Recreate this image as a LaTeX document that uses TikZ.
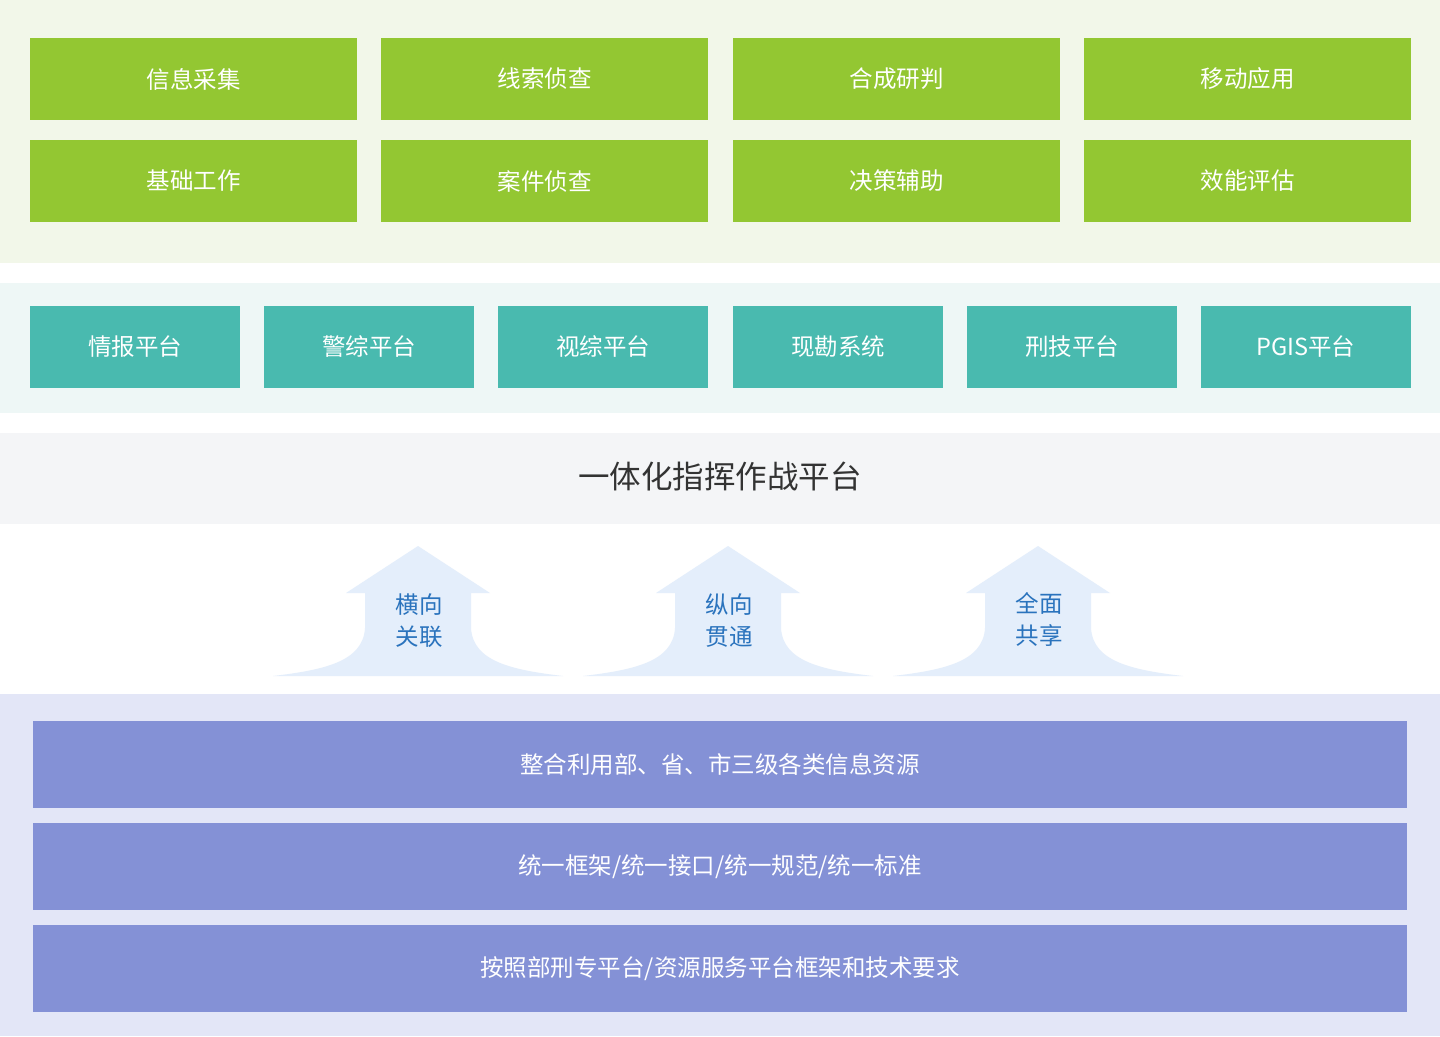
\documentclass[tikz,border=0pt]{standalone}
\usepackage{fontspec}
\setmainfont{Noto Sans CJK SC}
\definecolor{gfill}{HTML}{93C732}
\definecolor{gbg}{HTML}{F2F7E9}
\definecolor{tfill}{HTML}{49BAAF}
\definecolor{tbg}{HTML}{EEF7F6}
\definecolor{graybg}{HTML}{F4F5F7}
\definecolor{afill}{HTML}{E4EEFB}
\definecolor{atext}{HTML}{2A73BD}
\definecolor{pfill}{HTML}{8491D6}
\definecolor{pbg}{HTML}{E3E6F7}
\definecolor{ttext}{HTML}{333333}
\tikzset{
  panel/.style={rectangle, inner sep=0pt, outer sep=0pt, draw=none, anchor=north west},
  box/.style={rectangle, inner sep=0pt, outer sep=0pt, draw=none, text=white,
    font=\fontsize{23.5pt}{28pt}\selectfont, minimum height=82pt},
  gbox/.style={box, fill=gfill, minimum width=327pt},
  tbox/.style={box, fill=tfill, minimum width=210pt},
  pbox/.style={box, fill=pfill, minimum width=1374pt, minimum height=86.5pt},
  arrowshape/.style={fill=afill, draw=none},
  arrowtext/.style={text=atext, align=center, font=\fontsize{23.5pt}{32pt}\selectfont, inner sep=0pt},
}
\begin{document}
\begin{tikzpicture}[x=1pt,y=-1pt]
\useasboundingbox (0,0) rectangle (1440,1036);
\fill[white] (0,0) rectangle (1440,1036);
% panels
\node[panel, fill=gbg, minimum width=1440pt, minimum height=262.5pt] (p1) at (0,0) {};
\node[panel, fill=tbg, minimum width=1440pt, minimum height=129.5pt] (p2) at (0,283) {};
\node[panel, fill=graybg, minimum width=1440pt, minimum height=91pt] (p3) at (0,433) {};
\node[panel, fill=pbg, minimum width=1440pt, minimum height=342pt] (p4) at (0,694) {};
% top green boxes
\node[gbox] (g1) at (193.5,79) {信息采集};
\node[gbox] (g2) at (544.5,79) {线索侦查};
\node[gbox] (g3) at (896.5,79) {合成研判};
\node[gbox] (g4) at (1247.5,79) {移动应用};
\node[gbox] (g5) at (193.5,181) {基础工作};
\node[gbox] (g6) at (544.5,181) {案件侦查};
\node[gbox] (g7) at (896.5,181) {决策辅助};
\node[gbox] (g8) at (1247.5,181) {效能评估};
% teal boxes
\node[tbox] (t1) at (135,347) {情报平台};
\node[tbox] (t2) at (369,347) {警综平台};
\node[tbox] (t3) at (603,347) {视综平台};
\node[tbox] (t4) at (838,347) {现勘系统};
\node[tbox] (t5) at (1072,347) {刑技平台};
\node[tbox] (t6) at (1306,347) {PGIS平台};
% title
\node[text=ttext, font=\fontsize{31.5pt}{36pt}\selectfont, inner sep=0pt] (title) at (720,476) {一体化指挥作战平台};
% arrows
\foreach \cx in {418,728,1038}{
  \begin{scope}[shift={(\cx,0)}]
    \fill[arrowshape] (0,546) -- (72,593) -- (53,593) -- (53,628)
      .. controls (55,662) and (95,670) .. (145,676)
      -- (-145,676)
      .. controls (-95,670) and (-55,662) .. (-53,628)
      -- (-53,593) -- (-72,593) -- cycle;
  \end{scope}
}
\node[arrowtext] (a1) at (419,621) {横向\\关联};
\node[arrowtext] (a2) at (729,621) {纵向\\贯通};
\node[arrowtext] (a3) at (1039,619) {全面\\共享};
% purple boxes
\node[pbox] (b1) at (720,764.5) {整合利用部、省、市三级各类信息资源};
\node[pbox] (b2) at (720,866.5) {统一框架/统一接口/统一规范/统一标准};
\node[pbox] (b3) at (720,968.5) {按照部刑专平台/资源服务平台框架和技术要求};
\end{tikzpicture}
\end{document}
